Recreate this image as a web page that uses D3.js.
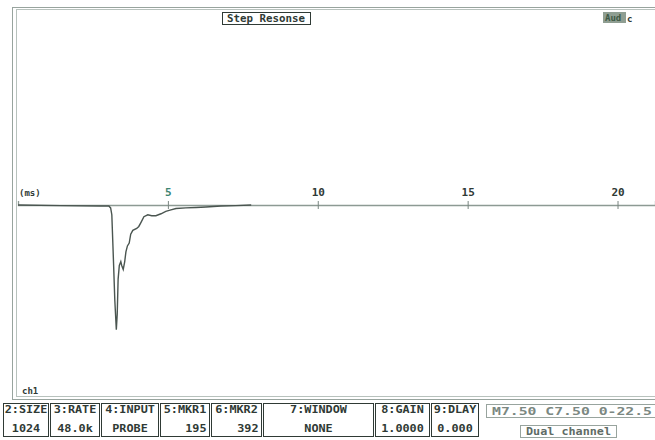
<!DOCTYPE html>
<html lang="en">
<head>
    <meta charset="UTF-8">
    <title>Step Resonse</title>
    <script src="https://d3js.org/d3.v7.min.js"></script>
    <style>
        body { margin: 0; background: #fff; }
        text { font-family: "DejaVu Sans Mono", monospace; font-weight: bold; }
    </style>
</head>
<body>
    <div id="my_dataviz"></div>
<script>
    // Trace (time in ms, amplitude in screen units, 0 = axis)
    const timeMs = [0, 1.42, 2.76, 3.03, 3.09, 3.13, 3.16, 3.19, 3.23, 3.28, 3.31, 3.34, 3.38, 3.43, 3.46, 3.51,
        3.56, 3.60, 3.65, 3.71, 3.76, 3.83, 3.96, 4.03, 4.10, 4.20, 4.33, 4.46, 4.60, 4.77, 4.93, 5.10, 5.27,
        5.60, 5.94, 6.27, 6.77, 7.27, 7.78];
    const amplitude = [0, -0.003, -0.005, -0.005, -0.015, -0.05, -0.18, -0.31, -0.49, -0.64, -0.56, -0.38,
        -0.31, -0.29, -0.31, -0.33, -0.29, -0.24, -0.21, -0.195, -0.15, -0.13, -0.12, -0.11, -0.09, -0.06,
        -0.05, -0.055, -0.055, -0.045, -0.033, -0.025, -0.018, -0.015, -0.013, -0.01, -0.005, -0.003, 0];
    const tickValues = [5, 10, 15, 20];
    const statusLabels = ["2:SIZE", "3:RATE", "4:INPUT", "5:MKR1", "6:MKR2", "7:WINDOW", "8:GAIN", "9:DLAY"];
    const statusValues = ["1024", "48.0k", "PROBE", "195", "392", "NONE", "1.0000", "0.000"];

    const W = 655, H = 440;
    const ink = "#2f3a35", frame = "#98a49e";
    const charW = 7.1;

    const svg = d3.select("#my_dataviz")
        .append("svg")
            .attr("width", W)
            .attr("height", H);

    // double frame around the plot area
    svg.append("rect").attr("x", 12.5).attr("y", 7.5).attr("width", 660).attr("height", 392)
        .attr("fill", "none").attr("stroke", frame);
    svg.append("rect").attr("x", 16.5).attr("y", 9.5).attr("width", 660).attr("height", 387)
        .attr("fill", "none").attr("stroke", "#b8c2bd");

    // scales
    const x = d3.scaleLinear().domain([0, 21.25]).range([18, 655]);
    const y = d3.scaleLinear().domain([-1, 1]).range([400, 10]);

    // time axis through zero
    const xAxis = svg.append("g")
        .attr("transform", `translate(0,${y(0)})`)
        .call(d3.axisTop(x).tickValues(tickValues).tickSize(4).tickPadding(5));
    xAxis.select(".domain").attr("stroke", "#8d9a94").attr("stroke-width", 1.3);
    xAxis.selectAll(".tick line").attr("y1", -4).attr("y2", 4).attr("stroke", "#7a8681");
    xAxis.selectAll(".tick text")
        .attr("font-family", "DejaVu Sans Mono").attr("font-weight", "bold").attr("font-size", 11)
        .attr("fill", d => d === 5 ? "#3d8572" : ink);

    svg.append("text").attr("x", 19).attr("y", 196)
        .attr("font-size", 9).attr("fill", ink).text("(ms)");

    // step response trace
    const line = d3.line().x(d => x(d[0])).y(d => y(d[1]));
    svg.append("path")
        .datum(timeMs.map((t, i) => [t, amplitude[i]]))
        .attr("d", line)
        .attr("fill", "none")
        .attr("stroke", "#4a5550")
        .attr("stroke-width", 1.4);

    // title box
    svg.append("rect").attr("x", 222.5).attr("y", 12.5).attr("width", 88).attr("height", 12)
        .attr("fill", "#fff").attr("stroke", ink);
    svg.append("text").attr("x", 227).attr("y", 22).attr("font-size", 10)
        .attr("textLength", 78).attr("lengthAdjust", "spacingAndGlyphs")
        .attr("fill", ink).text("Step Resonse");

    // top right badge
    svg.append("rect").attr("x", 603).attr("y", 12).attr("width", 23).attr("height", 11).attr("fill", "#8f9e92");
    svg.append("text").attr("x", 605).attr("y", 21).attr("font-size", 9).attr("fill", "#3e5a45").text("Aud");
    svg.append("text").attr("x", 627).attr("y", 22).attr("font-size", 9).attr("fill", ink).text("c");

    svg.append("text").attr("x", 22).attr("y", 394).attr("font-size", 9).attr("fill", ink).text("ch1");

    // status bar boxes
    const boxEdges = [3, 50, 101, 160, 211, 263, 375, 431, 480];
    const status = svg.append("g");
    statusLabels.forEach((lab, i) => {
        const x0 = boxEdges[i] + 0.5, w = boxEdges[i + 1] - boxEdges[i] - 2;
        status.append("rect").attr("x", x0).attr("y", 403.5).attr("width", w).attr("height", 33)
            .attr("fill", "none").attr("stroke", ink).attr("stroke-width", 1);
        status.append("text").attr("x", x0 + w / 2).attr("y", 413).attr("font-size", 10)
            .attr("text-anchor", "middle")
            .attr("textLength", lab.length * charW).attr("lengthAdjust", "spacingAndGlyphs")
            .attr("fill", ink).text(lab);
        const v = statusValues[i];
        const right = (i === 3 || i === 4);
        status.append("text")
            .attr("x", right ? x0 + w - 3 : x0 + w / 2)
            .attr("y", 432).attr("font-size", 10)
            .attr("text-anchor", right ? "end" : "middle")
            .attr("textLength", v.length * charW).attr("lengthAdjust", "spacingAndGlyphs")
            .attr("fill", ink).text(v);
    });

    // marker readout
    svg.append("rect").attr("x", 486.5).attr("y", 404.5).attr("width", 175).attr("height", 13)
        .attr("fill", "none").attr("stroke", frame);
    svg.append("text").attr("x", 492).attr("y", 414.5).attr("font-size", 10)
        .attr("textLength", 160).attr("lengthAdjust", "spacingAndGlyphs")
        .attr("fill", "#7b8882").text("M7.50 C7.50 0-22.5");
    svg.append("rect").attr("x", 520.5).attr("y", 425.5).attr("width", 96).attr("height", 12)
        .attr("fill", "none").attr("stroke", frame);
    svg.append("text").attr("x", 526).attr("y", 435).attr("font-size", 10)
        .attr("textLength", 85).attr("lengthAdjust", "spacingAndGlyphs")
        .attr("fill", "#5f6c66").text("Dual channel");
</script>
</body>
</html>
